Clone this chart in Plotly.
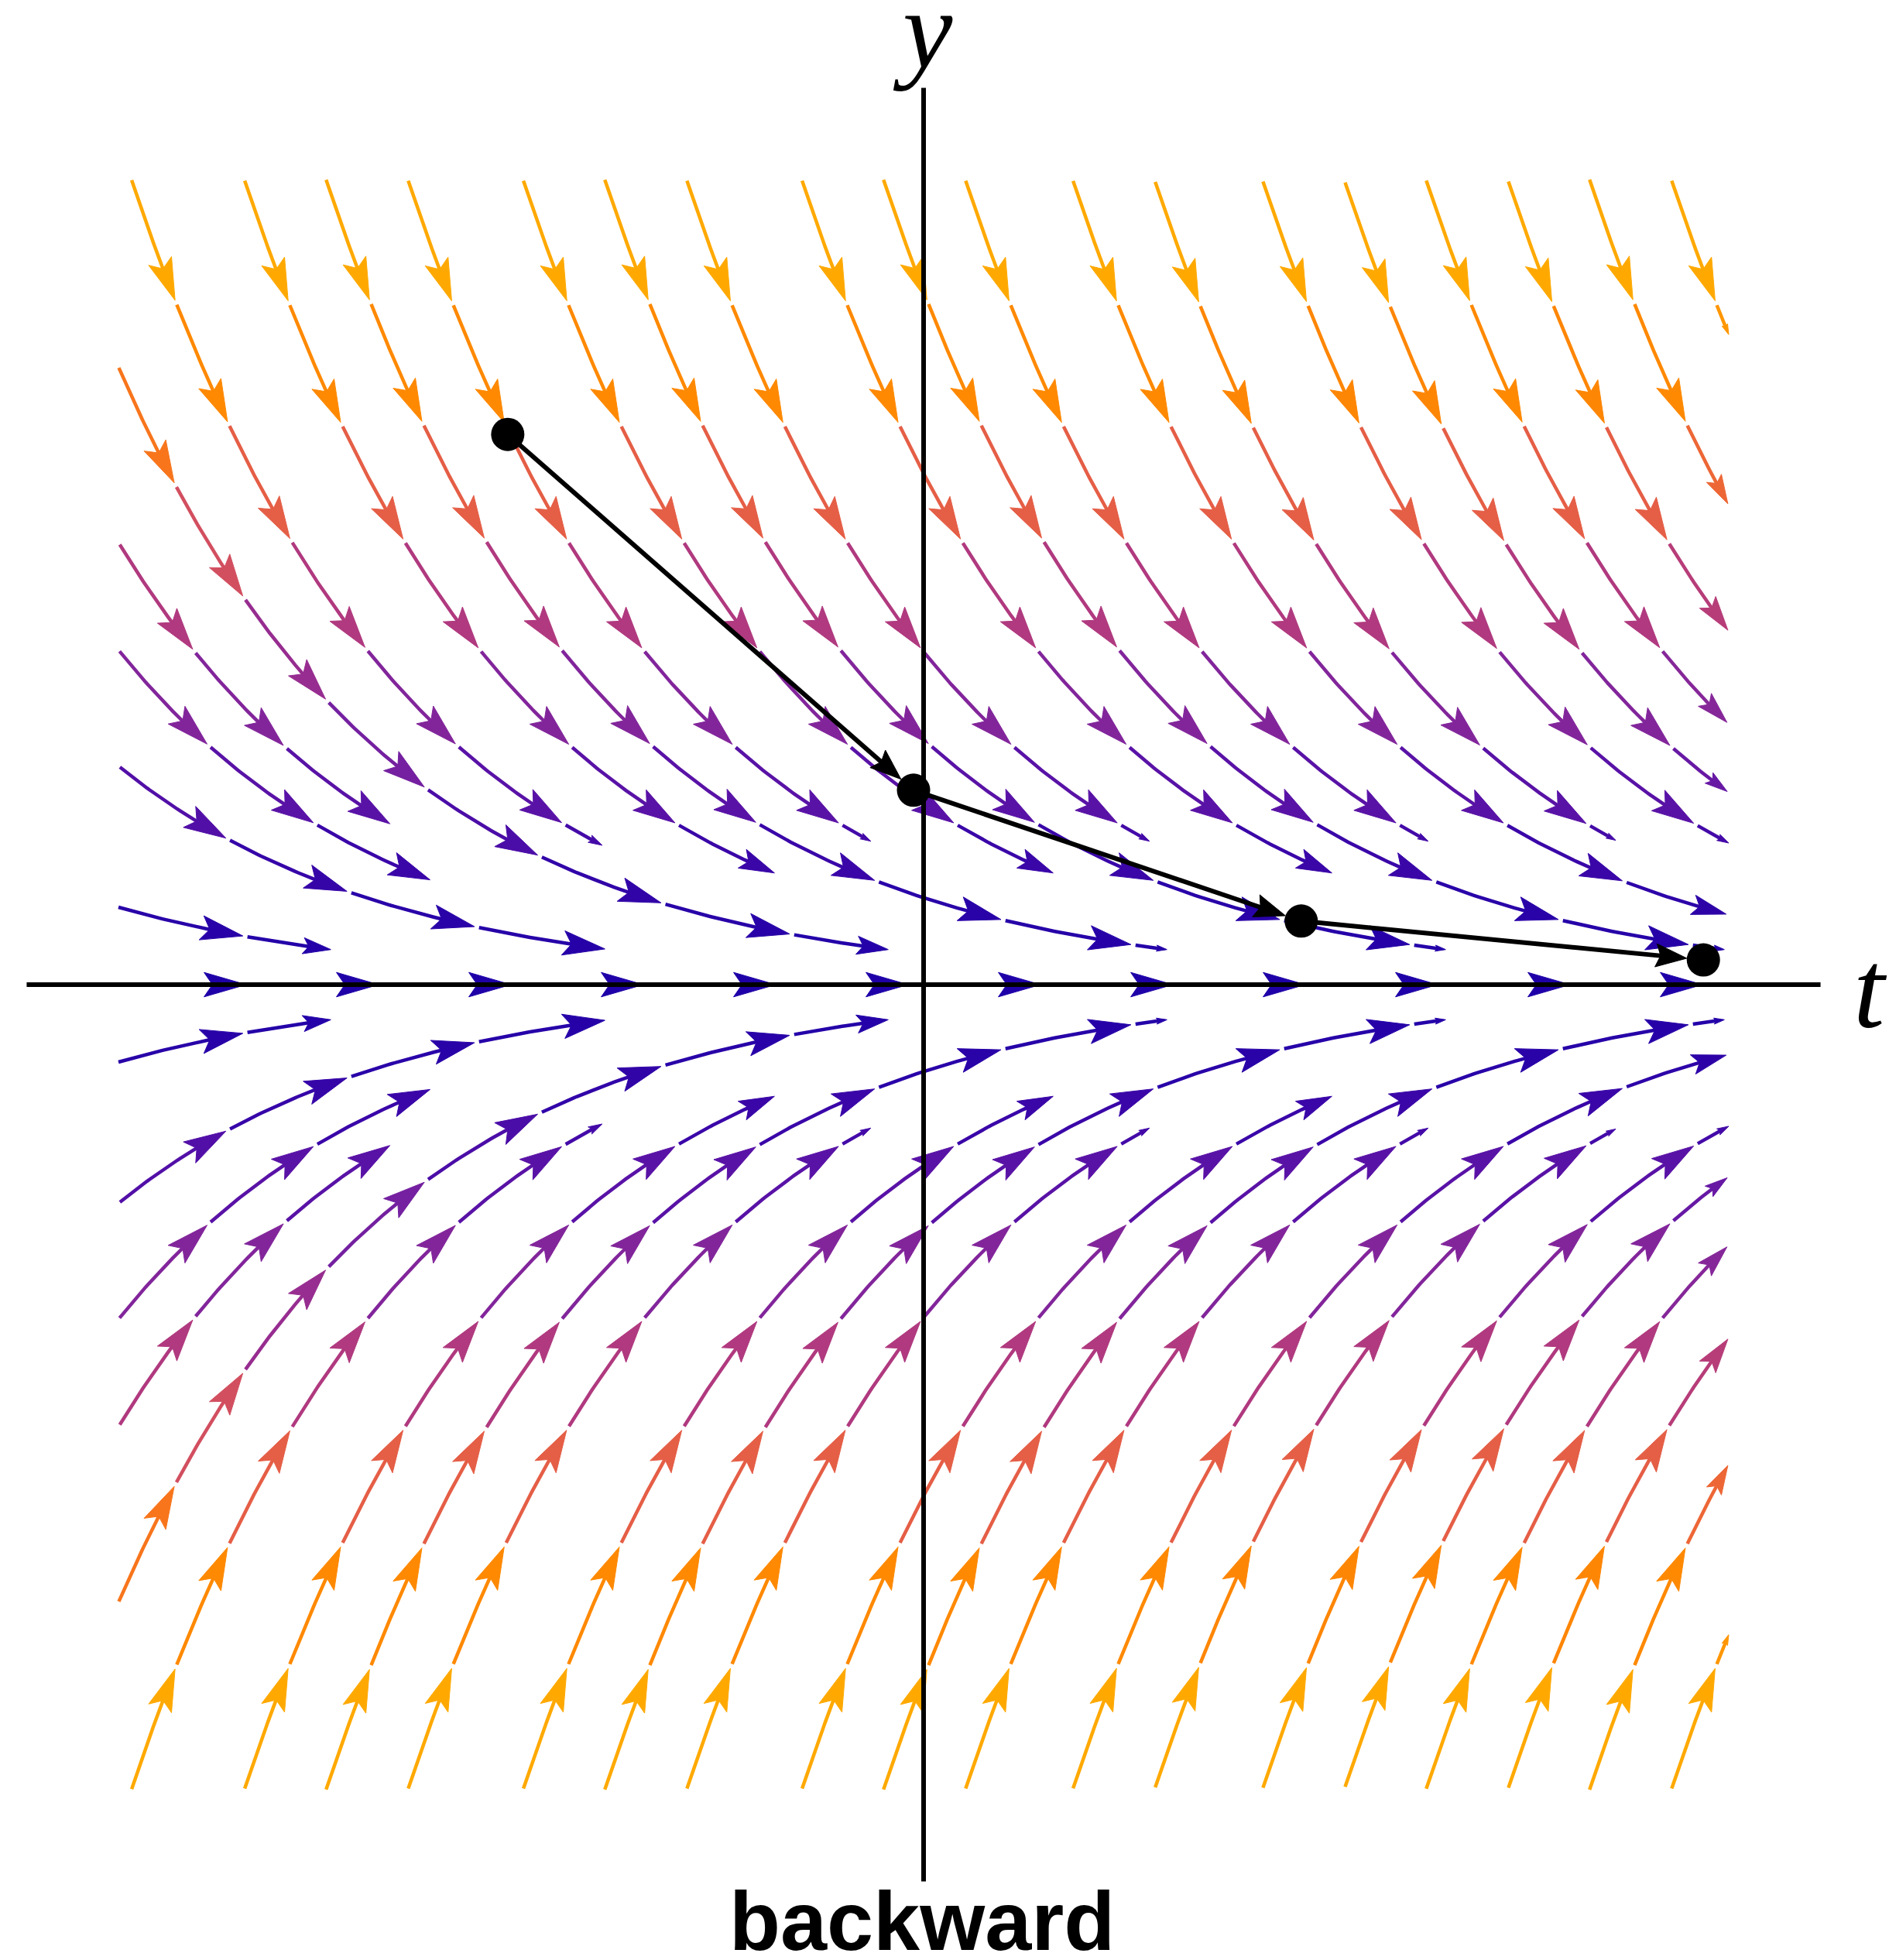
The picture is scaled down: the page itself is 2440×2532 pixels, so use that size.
import math
import numpy as np
import plotly.graph_objects as go

# ------------------------------------------------------------------
# Model: dy/dt = -RATE * y, streamlines on the square [-2, 2] x [-2, 2]
# ------------------------------------------------------------------
RATE = 1.5
REGION = 2.0          # streamlines fill |t|, |y| <= REGION
AXIS_REACH = 2.228    # half-length of the drawn coordinate axes
VIEW = 2.25           # visible half-width of the plotting window

# backward Euler iterates (t_n, y_n)
euler_t = [-1.033, -0.025, 0.938, 1.937]
euler_y = [1.367, 0.483, 0.158, 0.0615]

# text
label_t = "t"
label_y = "y"
caption = "backward"

# colour ramp as a function of |y| / REGION
ramp_pos = [0.00, 0.10, 0.18, 0.25, 0.30, 0.38, 0.46, 0.52, 0.57, 0.62, 0.67, 0.72, 0.78, 0.86, 1.00]
ramp_hex = ["#1F00A8", "#2A02A8", "#4008A8", "#5E14A6", "#7420A0", "#8A2898", "#A93585",
            "#C4446E", "#D8545A", "#E55E46", "#F26C2C", "#FC7C10", "#FF8A00", "#FFA000", "#FFB400"]

# ------------------------------------------------------------------
# Page geometry (pixels)
# ------------------------------------------------------------------
W, H = 2440, 2532
UNIT = 520.0                       # pixels per data unit, both axes
ORIGIN_X, ORIGIN_Y = 1193, 1272    # pixel position of (0, 0)
SPAN = VIEW * UNIT
M_L = int(round(ORIGIN_X - SPAN))
M_T = int(round(ORIGIN_Y - SPAN))
M_R = W - M_L - int(round(2 * SPAN))
M_B = H - M_T - int(round(2 * SPAN))

# streamline layout parameters (pixels)
LIM = REGION * UNIT
D_SEP = 100.0
D_TEST = 45.0
STEP = 4.0
SEG = 165.0
GAP = 6.0
MIN_PIECE = 35.0
MIN_LINE = 50.0
HEAD_MAX = 56.0
HEAD_FRAC = 0.33
HEAD_ASPECT = 0.58
NOTCH = 0.80
LINE_W = 4.5


def unit_dir(x, y):
    s = -RATE * y / UNIT
    n = math.sqrt(1.0 + s * s)
    return 1.0 / n, s / n


def inside(x, y):
    return -LIM <= x <= LIM and 0.0 < y <= LIM


class Grid:
    def __init__(self, cell):
        self.cell = cell
        self.cells = {}

    def add(self, pts):
        c = self.cell
        for x, y in pts:
            self.cells.setdefault((int(math.floor(x / c)), int(math.floor(y / c))), []).append((x, y))

    def near(self, x, y, r):
        c = self.cell
        cx, cy = int(math.floor(x / c)), int(math.floor(y / c))
        k = int(math.ceil(r / c))
        rr = r * r
        for i in range(cx - k, cx + k + 1):
            for j in range(cy - k, cy + k + 1):
                for px, py in self.cells.get((i, j), ()):
                    if (px - x) ** 2 + (py - y) ** 2 < rr:
                        return True
        return False


def trace(sx, sy, grid):
    parts = {}
    for sign in (1.0, -1.0):
        out = []
        x, y = sx, sy
        for _ in range(5000):
            dx, dy = unit_dir(x, y)
            mx, my = x + sign * 0.5 * STEP * dx, y + sign * 0.5 * STEP * dy
            dx, dy = unit_dir(mx, my)
            nx, ny = x + sign * STEP * dx, y + sign * STEP * dy
            if not inside(nx, ny) or grid.near(nx, ny, D_TEST):
                break
            out.append((nx, ny))
            x, y = nx, ny
        parts[sign] = out
    return parts[-1.0][::-1] + [(sx, sy)] + parts[1.0]


# evenly spaced streamlines in the upper half, grown from the t axis
grid = Grid(50.0)
axis_line = [(x, 0.0) for x in np.arange(-LIM, LIM + 0.1, STEP)]
grid.add(axis_line)
upper = []
queue = [axis_line]
while queue:
    line = queue.pop(0)
    for k in range(0, len(line), 5):
        x, y = line[k]
        tx, ty = unit_dir(x, y)
        for side in (1.0, -1.0):
            sx, sy = x - side * ty * D_SEP, y + side * tx * D_SEP
            if not inside(sx, sy) or grid.near(sx, sy, D_SEP * 0.98):
                continue
            new = trace(sx, sy, grid)
            if (len(new) - 1) * STEP < MIN_LINE:
                continue
            grid.add(new)
            upper.append(new)
            queue.append(new)


def ramp(v):
    v = min(max(v, 0.0), 1.0)
    rgb = []
    for ch in range(3):
        vals = [int(h[1 + 2 * ch:3 + 2 * ch], 16) for h in ramp_hex]
        rgb.append(int(round(np.interp(v, ramp_pos, vals))))
    return "rgb(%d,%d,%d)" % tuple(rgb)


NBIN = 64
shafts = {}
heads = {}


def at(arr, cum, s):
    return np.interp(s, cum, arr[:, 0]), np.interp(s, cum, arr[:, 1])


def add_arrows(pts, mirror_too):
    arr = np.array(pts)
    d = np.hypot(np.diff(arr[:, 0]), np.diff(arr[:, 1]))
    cum = np.concatenate([[0.0], np.cumsum(d)])
    total = cum[-1]
    s = 0.0
    while total - s >= MIN_PIECE:
        e = min(s + SEG, total)
        length = e - s
        hl = min(HEAD_MAX, HEAD_FRAC * length)
        hw = HEAD_ASPECT * hl
        tipx, tipy = at(arr, cum, e)
        bx, by = at(arr, cum, e - hl)
        ux, uy = tipx - bx, tipy - by
        un = math.hypot(ux, uy)
        ux, uy = ux / un, uy / un
        nx, ny = -uy, ux
        shaft_end = e - 0.7 * hl
        inner = (cum > s) & (cum < shaft_end)
        sx0, sy0 = at(arr, cum, s)
        sx1, sy1 = at(arr, cum, shaft_end)
        shx = [sx0] + list(arr[inner, 0]) + [sx1]
        shy = [sy0] + list(arr[inner, 1]) + [sy1]
        hx = [tipx, tipx - hl * ux + hw / 2 * nx, tipx - NOTCH * hl * ux, tipx - hl * ux - hw / 2 * nx, tipx]
        hy = [tipy, tipy - hl * uy + hw / 2 * ny, tipy - NOTCH * hl * uy, tipy - hl * uy - hw / 2 * ny, tipy]
        my = abs(at(arr, cum, 0.5 * (s + e))[1])
        b = int(round(min(my / LIM, 1.0) * (NBIN - 1)))
        signs = (1.0, -1.0) if mirror_too else (1.0,)
        for sg in signs:
            shafts.setdefault(b, ([], []))
            shafts[b][0].extend([v / UNIT for v in shx] + [None])
            shafts[b][1].extend([sg * v / UNIT for v in shy] + [None])
            heads.setdefault(b, ([], []))
            heads[b][0].extend([v / UNIT for v in hx] + [None])
            heads[b][1].extend([sg * v / UNIT for v in hy] + [None])
        s = e + GAP


add_arrows(axis_line, False)
for ln in upper:
    add_arrows(ln, True)

fig = go.Figure()
for b in sorted(shafts):
    col = ramp(b / (NBIN - 1))
    fig.add_trace(go.Scatter(x=shafts[b][0], y=shafts[b][1], mode="lines",
                             line=dict(color=col, width=LINE_W), hoverinfo="skip", showlegend=False))
    fig.add_trace(go.Scatter(x=heads[b][0], y=heads[b][1], mode="lines", fill="toself",
                             fillcolor=col, line=dict(color=col, width=1),
                             hoverinfo="skip", showlegend=False))

# coordinate axes
fig.add_trace(go.Scatter(x=[-AXIS_REACH, AXIS_REACH], y=[0, 0], mode="lines",
                         line=dict(color="black", width=6), hoverinfo="skip", showlegend=False))
fig.add_trace(go.Scatter(x=[0, 0], y=[-AXIS_REACH, AXIS_REACH], mode="lines",
                         line=dict(color="black", width=6), hoverinfo="skip", showlegend=False))

# backward Euler steps: connecting arrows, then the points
DOT_R = 21.5
E_HEAD_L, E_HEAD_W = 40.0, 30.0
ex, ey, hx_all, hy_all = [], [], [], []
for i in range(len(euler_t) - 1):
    x0, y0 = euler_t[i] * UNIT, euler_y[i] * UNIT
    x1, y1 = euler_t[i + 1] * UNIT, euler_y[i + 1] * UNIT
    ux, uy = x1 - x0, y1 - y0
    un = math.hypot(ux, uy)
    ux, uy = ux / un, uy / un
    nx, ny = -uy, ux
    tx, ty = x1 - DOT_R * ux, y1 - DOT_R * uy
    lx, ly = tx - 0.8 * E_HEAD_L * ux, ty - 0.8 * E_HEAD_L * uy
    ex += [x0 / UNIT, lx / UNIT, None]
    ey += [y0 / UNIT, ly / UNIT, None]
    px = [tx, tx - E_HEAD_L * ux + E_HEAD_W / 2 * nx, tx - 0.85 * E_HEAD_L * ux,
          tx - E_HEAD_L * ux - E_HEAD_W / 2 * nx, tx]
    py = [ty, ty - E_HEAD_L * uy + E_HEAD_W / 2 * ny, ty - 0.85 * E_HEAD_L * uy,
          ty - E_HEAD_L * uy - E_HEAD_W / 2 * ny, ty]
    hx_all += [v / UNIT for v in px] + [None]
    hy_all += [v / UNIT for v in py] + [None]

fig.add_trace(go.Scatter(x=ex, y=ey, mode="lines", line=dict(color="black", width=6),
                         hoverinfo="skip", showlegend=False))
fig.add_trace(go.Scatter(x=hx_all, y=hy_all, mode="lines", fill="toself", fillcolor="black",
                         line=dict(color="black", width=1), hoverinfo="skip", showlegend=False))
fig.add_trace(go.Scatter(x=euler_t, y=euler_y, mode="markers",
                         marker=dict(color="black", size=2 * DOT_R, line=dict(width=0)),
                         hoverinfo="skip", showlegend=False))


def paper_x(px):
    return (px - M_L) / (2 * SPAN)


def paper_y(py):
    return (M_T + 2 * SPAN - py) / (2 * SPAN)


serif = "Liberation Serif, Times New Roman, serif"
sans = "Liberation Sans, Arial, Helvetica, sans-serif"
fig.add_annotation(x=paper_x(1192), y=paper_y(38), xref="paper", yref="paper",
                   text="<i>%s</i>" % label_y, showarrow=False, xanchor="center", yanchor="middle",
                   font=dict(family=serif, size=145, color="black"))
fig.add_annotation(x=paper_x(2416), y=paper_y(1278), xref="paper", yref="paper",
                   text="<i>%s</i>" % label_t, showarrow=False, xanchor="center", yanchor="middle",
                   font=dict(family=serif, size=145, color="black"))
fig.add_annotation(x=paper_x(1191), y=paper_y(2481), xref="paper", yref="paper",
                   text="<b>%s</b>" % caption, showarrow=False, xanchor="center", yanchor="middle",
                   font=dict(family=sans, size=108, color="black"))

fig.update_layout(
    width=W, height=H, autosize=False,
    margin=dict(l=M_L, r=M_R, t=M_T, b=M_B, pad=0),
    paper_bgcolor="white", plot_bgcolor="white",
    xaxis=dict(range=[-VIEW, VIEW], visible=False, showgrid=False, zeroline=False, fixedrange=True),
    yaxis=dict(range=[-VIEW, VIEW], visible=False, showgrid=False, zeroline=False, fixedrange=True),
)

fig.write_html("out.html", config={"displayModeBar": False},
               post_script="document.body.style.margin='0';")
